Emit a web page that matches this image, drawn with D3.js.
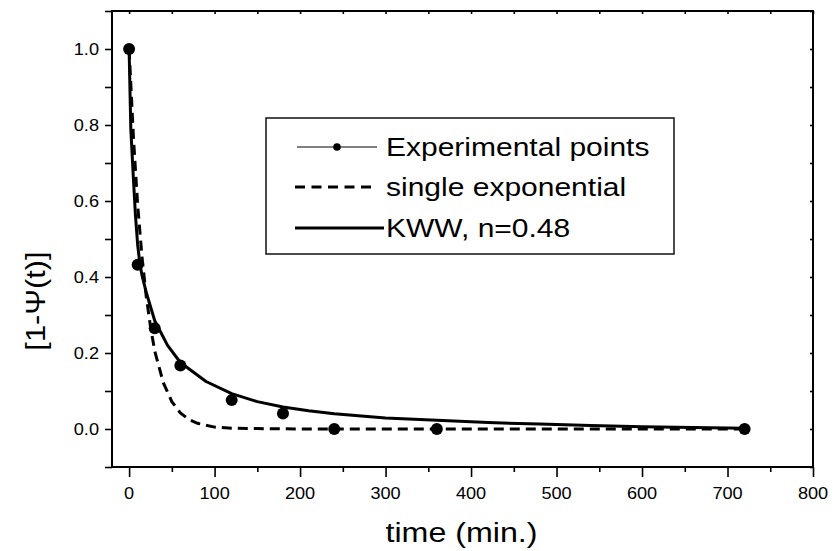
<!DOCTYPE html>
<html>
<head>
<meta charset="utf-8">
<script src="https://cdn.jsdelivr.net/npm/d3@7/dist/d3.min.js"></script>
<style>
  html, body { margin: 0; padding: 0; background: #fff; }
  svg { display: block; font-family: "Liberation Sans", Arial, Helvetica, sans-serif; }
</style>
</head>
<body>
<svg id="chart" width="833" height="551"></svg>
<script>
// ---- Data ----
const expTime = [0, 10, 30, 60, 120, 180, 240, 360, 720];
const expValue = [1.0, 0.432, 0.265, 0.167, 0.076, 0.041, 0.0, 0.0, 0.0];

const singleExpTime = [0, 5, 10, 15, 20, 25, 30, 40, 50, 60, 70, 80, 100, 120, 150, 200, 300, 400, 500, 600, 720];
const singleExpValue = [1.0, 0.77, 0.59, 0.455, 0.35, 0.27, 0.205, 0.122, 0.072, 0.042, 0.025, 0.015, 0.005, 0.002, 0.001, 0.0, 0.0, 0.0, 0.0, 0.0, 0.0];

const kwwTime = [0, 2, 5, 7.5, 10, 12.5, 15, 20, 30, 45, 60, 90, 120, 150, 180, 210, 240, 300, 360, 420, 480, 540, 600, 660, 720];
const kwwValue = [1.0, 0.79, 0.66, 0.56, 0.485, 0.437, 0.405, 0.36, 0.285, 0.22, 0.175, 0.125, 0.093, 0.072, 0.058, 0.048, 0.04, 0.029, 0.023, 0.017, 0.013, 0.009, 0.006, 0.004, 0.002];

const xMajorTicks = [0, 100, 200, 300, 400, 500, 600, 700, 800];
const xMinorTicks = [50, 150, 250, 350, 450, 550, 650, 750];
const yMajorTicks = [0.0, 0.2, 0.4, 0.6, 0.8, 1.0];
const yMinorTicks = [-0.1, 0.1, 0.3, 0.5, 0.7, 0.9, 1.1];

const legendLabels = ["Experimental points", "single exponential", "KWW, n=0.48"];
const xTitle = "time (min.)";
const yTitle = "[1-\u03A8(t)]";

// ---- Layout ----
const svg = d3.select("#chart");
const L = 112, R = 813, T = 11, B = 467;
const x = d3.scaleLinear().domain([-20, 800]).range([L, R]);
const y = d3.scaleLinear().domain([-0.1, 1.1]).range([B, T]);

function stretchedText(g, px, py, str, size, sx, anchor) {
  return g.append("text")
    .attr("transform", `translate(${px},${py}) scale(${sx},1)`)
    .attr("text-anchor", anchor || "start")
    .attr("font-size", size)
    .attr("fill", "#000")
    .text(str);
}

// Bottom axis (outward ticks)
const xAxisMajor = d3.axisBottom(x).tickValues(xMajorTicks).tickSize(10).tickFormat("");
const xAxisMinor = d3.axisBottom(x).tickValues(xMinorTicks).tickSize(5).tickFormat("");
svg.append("g").attr("transform", `translate(0,${B})`).call(xAxisMajor);
svg.append("g").attr("transform", `translate(0,${B})`).call(xAxisMinor);
// Top axis (small inward ticks)
svg.append("g").attr("transform", `translate(0,${T})`)
  .call(d3.axisBottom(x).tickValues(xMajorTicks.concat(xMinorTicks)).tickSize(3).tickFormat(""));
// Left axis (outward ticks)
svg.append("g").attr("transform", `translate(${L},0)`)
  .call(d3.axisLeft(y).tickValues(yMajorTicks.concat(yMinorTicks)).tickSize(7).tickFormat(""));
// Right axis (small inward ticks)
svg.append("g").attr("transform", `translate(${R},0)`)
  .call(d3.axisLeft(y).tickValues(yMajorTicks.concat(yMinorTicks)).tickSize(3).tickFormat(""));

svg.selectAll(".domain").remove();
svg.selectAll(".tick line").attr("stroke", "#000").attr("stroke-width", 1.6);

// Frame
svg.append("rect").attr("x", L).attr("y", T).attr("width", R - L).attr("height", B - T)
  .attr("fill", "none").attr("stroke", "#000").attr("stroke-width", 2);

// Tick labels
const labels = svg.append("g");
xMajorTicks.forEach(v => stretchedText(labels, x(v), 499, d3.format("d")(v), 16.5, 1.1, "middle"));
yMajorTicks.forEach(v => stretchedText(labels, 99, y(v) + 6, d3.format(".1f")(v), 16.5, 1.1, "end"));

// Axis titles
stretchedText(svg, (L + R) / 2 - 1, 542, xTitle, 28, 1.15, "middle");
svg.append("text")
  .attr("transform", `translate(45,${(T + B) / 2 + 62}) rotate(-90) scale(1.1,1)`)
  .attr("text-anchor", "middle")
  .attr("font-size", 28)
  .text(yTitle);

// Clip for the plot
svg.append("clipPath").attr("id", "clip").append("rect")
  .attr("x", L).attr("y", T).attr("width", R - L).attr("height", B - T);
const plot = svg.append("g").attr("clip-path", "url(#clip)");

const singleData = singleExpTime.map((t, i) => [t, singleExpValue[i]]);
const kwwData = kwwTime.map((t, i) => [t, kwwValue[i]]);
const expData = expTime.map((t, i) => [t, expValue[i]]);
const line = d3.line().x(d => x(d[0])).y(d => y(d[1]));

plot.append("path").datum(singleData).attr("d", line)
  .attr("fill", "none").attr("stroke", "#000").attr("stroke-width", 3)
  .attr("stroke-dasharray", "10,6");
plot.append("path").datum(kwwData).attr("d", line)
  .attr("fill", "none").attr("stroke", "#000").attr("stroke-width", 3)
  .attr("stroke-linejoin", "round");
plot.selectAll("circle.pt").data(expData).enter().append("circle")
  .attr("class", "pt")
  .attr("cx", d => x(d[0])).attr("cy", d => y(d[1])).attr("r", 6)
  .attr("fill", "#000");

// Legend
const lg = svg.append("g");
lg.append("rect").attr("x", 266).attr("y", 118).attr("width", 408).attr("height", 136)
  .attr("fill", "#fff").attr("stroke", "#111").attr("stroke-width", 1.5);
const rowY = [147, 187, 228];
// row 1: thin line with dot
lg.append("line").attr("x1", 297).attr("x2", 377).attr("y1", rowY[0]).attr("y2", rowY[0])
  .attr("stroke", "#000").attr("stroke-width", 1);
lg.append("circle").attr("cx", 337).attr("cy", rowY[0]).attr("r", 3.8).attr("fill", "#000");
// row 2: dashed
lg.append("line").attr("x1", 295).attr("x2", 372).attr("y1", rowY[1]).attr("y2", rowY[1])
  .attr("stroke", "#000").attr("stroke-width", 3).attr("stroke-dasharray", "10,6.5");
// row 3: solid
lg.append("line").attr("x1", 295).attr("x2", 384).attr("y1", rowY[2]).attr("y2", rowY[2])
  .attr("stroke", "#000").attr("stroke-width", 3);
legendLabels.forEach((s, i) => stretchedText(lg, 386, rowY[i] + 9, s, 25, 1.2, "start"));
</script>
</body>
</html>
